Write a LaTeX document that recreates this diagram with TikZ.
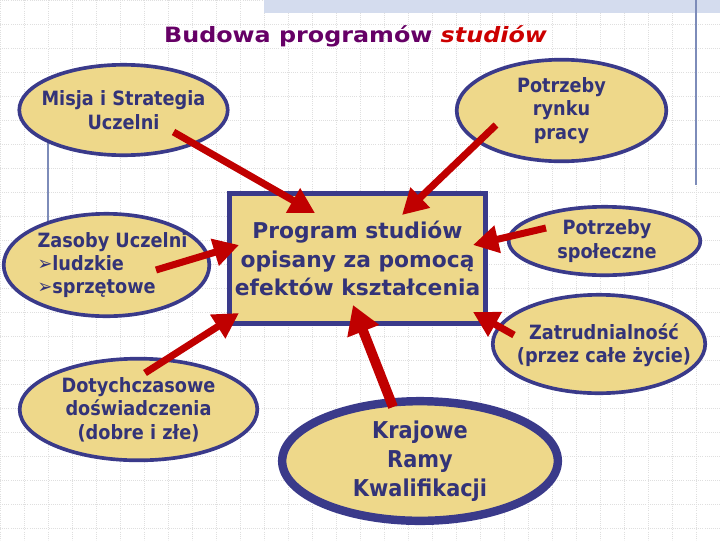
\documentclass[tikz,border=0pt]{standalone}
\usepackage{fontspec}
\setmainfont{DejaVu Sans}
\newfontfamily\bubblefont[FakeStretch=0.9]{DejaVu Sans}
\newfontfamily\titlefont[FakeStretch=1.13]{DejaVu Sans}
\usepackage{xcolor}
\usepackage{tikz}
\usetikzlibrary{arrows.meta,shapes,calc}

\definecolor{khaki}{RGB}{238,216,138}
\definecolor{navy}{RGB}{58,58,138}
\definecolor{inkblue}{RGB}{51,51,120}
\definecolor{arrowred}{RGB}{192,0,0}
\definecolor{titlepurple}{RGB}{102,0,102}
\definecolor{titlered}{RGB}{204,0,0}
\definecolor{bandblue}{RGB}{212,220,238}
\definecolor{rulegray}{RGB}{125,140,185}

\begin{document}
\begin{tikzpicture}[
  x=0.025cm, y=-0.025cm,
  bubble/.style={ellipse, draw=navy, line width=2.6pt, fill=khaki, inner sep=0pt},
  bubbletext/.style={text=inkblue, align=center, font=\bubblefont\bfseries\fontsize{14}{16.6}\selectfont},
  progbox/.style={rectangle, draw=navy, line width=3.5pt, fill=khaki, text=inkblue, align=center, font=\bfseries\fontsize{15.5}{20.5}\selectfont, minimum width=6.4cm, minimum height=3.25cm, inner sep=0pt},
  arrow/.style={-{Triangle[length=18pt, width=19pt]}, line width=5pt, draw=arrowred},
  bigarrow/.style={arrow, line width=7pt, -{Triangle[length=20pt, width=23pt]}},
  gridline/.style={gray!25, densely dotted, line width=0.5pt}
]
\useasboundingbox (0,0) rectangle (720,540);

% Slide background
\foreach \gx in {0,24,...,720} \draw[gridline] (\gx,0) -- (\gx,540);
\foreach \gy in {0,24,...,540} \draw[gridline] (0,\gy) -- (720,\gy);
\fill[bandblue] (264,0) rectangle (720,13);
\draw[rulegray, line width=0.8pt] (696,0) -- (696,185);
\draw[rulegray, line width=0.8pt] (48,120) -- (48,230);

% Title
\node[anchor=base, text=titlepurple, font=\titlefont\bfseries\fontsize{15}{17}\selectfont] (title) at (355.5,42) {Budowa programów \textcolor{titlered}{\itshape studiów}};

% Central box
\node[progbox] (prog) at (357.5,258.5) {Program studiów\\opisany za pomocą\\efektów kształcenia};

% Sources around the box
\node[bubble, minimum width=5.21cm, minimum height=2.26cm] (misja) at (123.5,110) {};
\node[bubbletext] (misja-t) at (misja) {Misja i Strategia\\Uczelni};

\node[bubble, minimum width=5.24cm, minimum height=2.54cm] (rynek) at (561.5,110.5) {};
\node[bubbletext] (rynek-t) at (rynek) {Potrzeby\\rynku\\pracy};

\node[bubble, minimum width=5.14cm, minimum height=2.56cm] (zasoby) at (106.5,265) {};
\node[bubbletext, align=left] (zasoby-t) at (112.5,265) {Zasoby Uczelni\\{\mdseries ➢}ludzkie\\{\mdseries ➢}sprzętowe};

\node[bubble, minimum width=4.79cm, minimum height=1.71cm] (spol) at (604.5,241) {};
\node[bubbletext] (spol-t) at (607,241) {Potrzeby\\społeczne};

\node[bubble, minimum width=5.31cm, minimum height=2.46cm] (zatr) at (599,344) {};
\node[bubbletext] (zatr-t) at (604,345) {Zatrudnialność\\(przez całe życie)};

\node[bubble, minimum width=5.94cm, minimum height=2.54cm] (dotych) at (138.5,409.5) {};
\node[bubbletext] (dotych-t) at (dotych) {Dotychczasowe\\doświadczenia\\(dobre i złe)};

\node[bubble, line width=6pt, minimum width=6.89cm, minimum height=2.99cm] (kraj) at (420,461) {};
\node[bubbletext, font=\bubblefont\bfseries\fontsize{16.5}{20.5}\selectfont] (kraj-t) at (kraj) {Krajowe\\Ramy\\Kwalifikacji};

% Arrows into the box
\draw[arrow] ($(misja)+(50,22)$) -- ($(prog)+(-42.5,-45.5)$);
\draw[arrow] ($(rynek)+(-65.5,14.5)$) -- ($(prog)+(44.5,-43.5)$);
\draw[arrow] ($(zasoby)+(49.5,5)$) -- ($(prog)+(-118.5,-13.5)$);
\draw[arrow] ($(spol)+(-58.5,-13)$) -- ($(prog)+(115.5,-13.5)$);
\draw[arrow] ($(zatr)+(-85,-9)$) -- ($(prog)+(115.5,53.5)$);
\draw[arrow] ($(dotych)+(6.5,-36.5)$) -- ($(prog)+(-118.5,54.5)$);
\draw[bigarrow] ($(kraj)+(-27,-54)$) -- ($(prog)+(-4.5,46.5)$);

\end{tikzpicture}
\end{document}
